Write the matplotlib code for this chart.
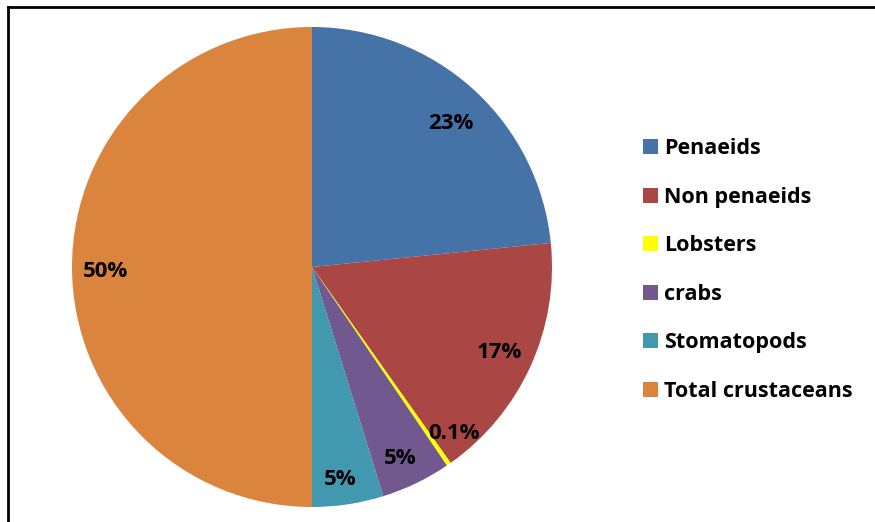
import matplotlib.pyplot as plt
from matplotlib.lines import Line2D

categories = ['Penaeids', 'Non penaeids', 'Lobsters', 'crabs', 'Stomatopods', 'Total crustaceans']
shares = [23.4, 16.8, 0.3, 4.7, 4.8, 50.0]
pct_labels = ['23%', '17%', '0.1%', '5%', '5%', '50%']
colors = ['#4572A7', '#AA4643', '#FFFF00', '#71588F', '#4198AF', '#DB843D']

# small nudges of the percentage labels (data units, radius = 1)
label_nudge = [(0.0, -0.04), (0.0, 0.0), (0.10, 0.012), (-0.008, -0.025), (-0.012, -0.035), (0.0, -0.02)]

plt.rcParams['font.family'] = ['Open Sans', 'DejaVu Sans']

fig = plt.figure(figsize=(8.75, 5.22), dpi=100)
ax = fig.add_axes([72/875, 15/522, 480/875, 480/522])

wedges, texts, autotexts = ax.pie(shares, colors=colors, startangle=90, counterclock=False,
                                  autopct='%1.1f', pctdistance=0.86,
                                  wedgeprops=dict(linewidth=0))
for t, lab, (dx, dy) in zip(autotexts, pct_labels, label_nudge):
    t.set_text(lab)
    t.set_fontsize(16)
    t.set_fontweight('bold')
    x, y = t.get_position()
    t.set_position((x + dx, y + dy))
ax.set_xlim(-1, 1)
ax.set_ylim(-1, 1)
ax.set_aspect('equal')

leg = fig.legend(wedges, categories, loc='center left', bbox_to_anchor=(624/875, 1 - 270/522),
                 frameon=False, prop=dict(size=15.5, weight='bold'),
                 handlelength=0.68, handleheight=0.68, handletextpad=0.3, labelspacing=1.28)

# chart border (only top and left visible)
fig.add_artist(Line2D([8/875, 1], [1 - 7/522, 1 - 7/522], color='black', lw=2))
fig.add_artist(Line2D([8/875, 8/875], [0, 1 - 7/522], color='black', lw=2))

fig.savefig('out.png', dpi=100)
